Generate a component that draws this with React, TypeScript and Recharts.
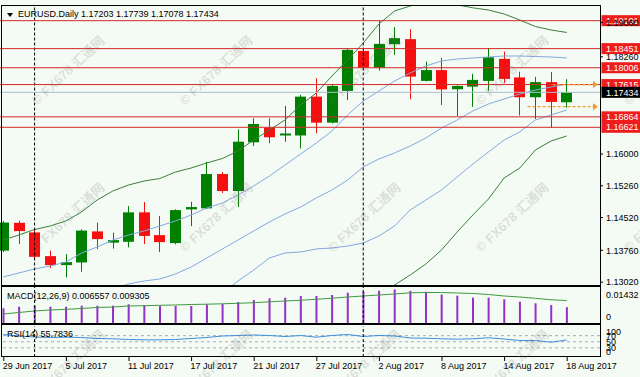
import React from "react";
import { ComposedChart, Bar, Line, XAxis, YAxis, ReferenceLine, ReferenceDot } from "recharts";

// ---------- data ----------
const dates = [
  "29 Jun 2017", "30 Jun 2017", "3 Jul 2017", "4 Jul 2017", "5 Jul 2017", "6 Jul 2017", "7 Jul 2017",
  "10 Jul 2017", "11 Jul 2017", "12 Jul 2017", "13 Jul 2017", "14 Jul 2017", "17 Jul 2017", "18 Jul 2017",
  "19 Jul 2017", "20 Jul 2017", "21 Jul 2017", "24 Jul 2017", "25 Jul 2017", "26 Jul 2017", "27 Jul 2017",
  "28 Jul 2017", "31 Jul 2017", "1 Aug 2017", "2 Aug 2017", "3 Aug 2017", "4 Aug 2017", "7 Aug 2017",
  "8 Aug 2017", "9 Aug 2017", "10 Aug 2017", "11 Aug 2017", "14 Aug 2017", "15 Aug 2017", "16 Aug 2017",
  "17 Aug 2017", "18 Aug 2017",
];
const opens = [1.13753, 1.144, 1.14177, 1.13625, 1.13416, 1.13478, 1.142, 1.13939, 1.13958, 1.14643, 1.14114, 1.13928, 1.14712, 1.14736, 1.15534, 1.15139, 1.16272, 1.16612, 1.16431, 1.16431, 1.17334, 1.16729, 1.17467, 1.18398, 1.18009, 1.18554, 1.18671, 1.177, 1.17951, 1.17506, 1.17567, 1.177, 1.18212, 1.17781, 1.1732, 1.17672, 1.17203];
const highs = [1.1444, 1.14447, 1.14242, 1.13753, 1.13672, 1.14247, 1.14405, 1.14172, 1.14789, 1.14882, 1.14556, 1.14712, 1.14889, 1.15821, 1.15581, 1.16575, 1.16831, 1.16831, 1.17118, 1.17374, 1.17763, 1.1763, 1.18456, 1.18445, 1.19104, 1.1895, 1.18903, 1.18149, 1.18235, 1.17595, 1.17863, 1.18461, 1.18382, 1.17916, 1.17793, 1.17909, 1.17739];
const lows = [1.13718, 1.13905, 1.13544, 1.13346, 1.13129, 1.1326, 1.13788, 1.138, 1.13828, 1.13905, 1.13718, 1.13898, 1.14324, 1.14719, 1.15092, 1.14766, 1.16186, 1.16249, 1.16286, 1.16128, 1.16482, 1.1671, 1.17257, 1.17956, 1.1794, 1.18305, 1.17274, 1.17688, 1.17141, 1.16885, 1.17094, 1.17467, 1.17653, 1.16896, 1.16815, 1.16617, 1.17078];
const closes = [1.14405, 1.14207, 1.13609, 1.13416, 1.13485, 1.14219, 1.14021, 1.13998, 1.14643, 1.14095, 1.13951, 1.14696, 1.14766, 1.15534, 1.15139, 1.16286, 1.16698, 1.16389, 1.16477, 1.17334, 1.16729, 1.17583, 1.18421, 1.18009, 1.18561, 1.18694, 1.178, 1.17951, 1.17502, 1.17583, 1.17723, 1.18251, 1.17746, 1.1732, 1.17672, 1.17211, 1.17434];

const bbUpper2 = [1.14, 1.14116, 1.14244, 1.14326, 1.14442, 1.14651, 1.1493, 1.1514, 1.15279, 1.15372, 1.1543, 1.15581, 1.15674, 1.15791, 1.15895, 1.1607, 1.16326, 1.16558, 1.16791, 1.1714, 1.17419, 1.17814, 1.18186, 1.18581, 1.19023, 1.19326, 1.19442, 1.19535, 1.19535, 1.1947, 1.194, 1.19349, 1.19256, 1.19116, 1.18965, 1.18884, 1.18826];
const bbUpper1 = [1.1314, 1.13233, 1.13326, 1.13395, 1.13488, 1.13698, 1.13837, 1.14, 1.14116, 1.14209, 1.14326, 1.14442, 1.14581, 1.14744, 1.1486, 1.15047, 1.15256, 1.15488, 1.15744, 1.16, 1.16256, 1.16535, 1.16907, 1.17233, 1.17465, 1.17698, 1.17884, 1.18047, 1.18163, 1.18209, 1.18233, 1.18256, 1.18279, 1.18279, 1.18267, 1.18256, 1.18233];
const bbMiddle = [1.12279, 1.12349, 1.12419, 1.12488, 1.12558, 1.12674, 1.12767, 1.1286, 1.12977, 1.13047, 1.13093, 1.13209, 1.13372, 1.13581, 1.13791, 1.14, 1.14209, 1.14419, 1.14605, 1.14767, 1.14977, 1.15163, 1.15395, 1.15698, 1.15884, 1.16023, 1.16186, 1.16372, 1.16605, 1.16791, 1.17, 1.17163, 1.17279, 1.17395, 1.17488, 1.17558, 1.17628];
const bbLower1 = [1.11419, 1.11465, 1.11512, 1.11558, 1.11605, 1.11651, 1.11698, 1.11744, 1.11814, 1.11907, 1.12, 1.1214, 1.12233, 1.12465, 1.12767, 1.13047, 1.13302, 1.13581, 1.13698, 1.13721, 1.13791, 1.13814, 1.1386, 1.1393, 1.14093, 1.14326, 1.14698, 1.1493, 1.15163, 1.15465, 1.15767, 1.16047, 1.16326, 1.16512, 1.16791, 1.16907, 1.17023];
const bbLower2 = [1.10558, 1.10628, 1.10674, 1.10721, 1.10744, 1.10791, 1.10837, 1.10884, 1.1093, 1.10977, 1.11023, 1.1107, 1.11116, 1.11302, 1.11488, 1.11791, 1.1207, 1.12372, 1.12488, 1.12419, 1.12512, 1.12488, 1.12535, 1.12674, 1.12767, 1.12953, 1.13186, 1.13442, 1.13767, 1.14186, 1.14581, 1.14953, 1.15442, 1.15674, 1.16093, 1.16302, 1.16419];

const macdHist = [0.00608, 0.00675, 0.00716, 0.00675, 0.00675, 0.00716, 0.00716, 0.00716, 0.00774, 0.00745, 0.00704, 0.00704, 0.00704, 0.00774, 0.00786, 0.00869, 0.00952, 0.01022, 0.01047, 0.01118, 0.01118, 0.01159, 0.01254, 0.01296, 0.01337, 0.01387, 0.01333, 0.01291, 0.0118, 0.0113, 0.01047, 0.01047, 0.00981, 0.00882, 0.00815, 0.00745, 0.006557];
const macdSignal = [0.00373, 0.00435, 0.00497, 0.00538, 0.00567, 0.006, 0.00642, 0.00662, 0.00704, 0.00716, 0.00733, 0.00745, 0.00766, 0.00778, 0.00795, 0.00815, 0.0084, 0.00877, 0.00911, 0.0094, 0.00981, 0.01026, 0.01076, 0.01118, 0.01159, 0.012, 0.0125, 0.01262, 0.01262, 0.01242, 0.01221, 0.0118, 0.01118, 0.01076, 0.01022, 0.0096, 0.009305];
const rsiValues = [73.8, 68.9, 65.6, 63.9, 64.9, 63.9, 60.7, 59.7, 57.4, 56.4, 56.4, 57.4, 60.7, 63.9, 68.9, 70.5, 72.1, 70.5, 67.2, 70.5, 64.9, 70.5, 73.8, 67.2, 70.5, 68.9, 62.3, 61.6, 59.7, 58.4, 59.7, 63.0, 59.0, 54.1, 54.1, 48.5, 55.7836];

const priceTicks = [1.1906, 1.1826, 1.16, 1.1526, 1.1452, 1.1376, 1.1302];
const levelLines = [1.19101, 1.18451, 1.18006, 1.17615, 1.16864, 1.16621];
const bidPrice = 1.17434;
const arrowLevels = [1.17615, 1.17101];
const arrowStartIdx = [35.1, 33.5];
const arrowEndIdx = 37.97;
const macdTicks = [0, 0.01432];
const rsiTicks = [0, 30, 50, 70, 100];
const rsiLevels = [30, 50, 70];
const dateTickIdx = [0, 4, 8, 12, 16, 20, 24, 28, 32, 36];
const separatorIdx = [2, 23];
const titleText = "EURUSD.Daily 1.17203 1.17739 1.17078 1.17434";
const macdText = "MACD(12,26,9) 0.006557 0.009305";
const rsiText = "RSI(14) 55.7836";
const watermarkText = "© FX678 汇通网";

// ---------- style ----------
const FONT = '"Liberation Sans", Arial, sans-serif';
const BG = "#f4faf4";
const GREEN = "#008000";
const RED = "#f50f0f";
const BAND_GREEN = "#3d7f3d";
const BAND_BLUE = "#84a8e0";
const LINE_RED = "#d62828";
const TAG_RED = "#ee1c1c";
const BID = "#a9bfcf";
const ORANGE = "#f59a2c";
const PURPLE = "#9530c8";
const SIG_GREEN = "#3f9a3f";
const RSI_BLUE = "#3d8fdc";
const LEVEL = "#a4afba";

const X0 = -0.211;
const X1 = 38.128;
const P_TOP = 1.194419;
const P_BOT = 1.129419;

const rows = dates.map((d, i) => ({
  i,
  date: d,
  o: opens[i],
  h: highs[i],
  l: lows[i],
  c: closes[i],
  hl: [lows[i], highs[i]],
  u2: bbUpper2[i],
  u1: bbUpper1[i],
  m: bbMiddle[i],
  l1: bbLower1[i],
  l2: bbLower2[i],
  macd: macdHist[i],
  sig: macdSignal[i],
  rsi: rsiValues[i],
}));
const allIdx = rows.map((r) => r.i);

// ---------- shapes ----------
const Candle = (props: any) => {
  const { x, y, width, height, payload } = props;
  if (x == null || y == null || !payload) return null;
  const top = Math.min(y, y + height);
  const bottom = Math.max(y, y + height);
  const span = payload.h - payload.l;
  const k = span > 0 ? (bottom - top) / span : 0;
  const py = (p: number) => top + (payload.h - p) * k;
  const up = payload.c >= payload.o;
  const color = up ? GREEN : RED;
  const cr = Math.round(x + width / 2);
  const bt = py(Math.max(payload.o, payload.c));
  const bb = py(Math.min(payload.o, payload.c));
  return (
    <g>
      <line x1={cr + 0.5} x2={cr + 0.5} y1={top} y2={bottom} stroke={color} strokeWidth={1} />
      <rect x={cr - 5} y={bt} width={11} height={Math.max(1.5, bb - bt)} fill={color} />
    </g>
  );
};

const PriceTick = (props: any) => {
  const { x, y, payload } = props;
  return (
    <text x={x} y={y + 3.2} fontSize={9} fontFamily={FONT} fill="#000" textAnchor="start">
      {Number(payload.value).toFixed(5)}
    </text>
  );
};

const ClampTick = (props: any) => {
  const { x, y, payload, lo, hi, digits } = props;
  const yy = Math.min(hi, Math.max(lo, y));
  const v = Number(payload.value);
  const txt = v === 0 ? "0" : digits ? v.toFixed(digits) : String(v);
  return (
    <text x={x} y={yy + 3.2} fontSize={9} fontFamily={FONT} fill="#000" textAnchor="start">
      {txt}
    </text>
  );
};

const DateTick = (props: any) => {
  const { x, payload } = props;
  const label = dates[payload.value];
  return (
    <g>
      <line x1={x + 0.5} x2={x + 0.5} y1={357} y2={361} stroke="#000" strokeWidth={1} />
      <text x={x - 0.5} y={368.5} fontSize={9} fontFamily={FONT} fill="#000" textAnchor="start">
        {label}
      </text>
    </g>
  );
};

const Tag = (props: any) => {
  const { viewBox, text, bg } = props;
  if (!viewBox) return null;
  const x = viewBox.x + viewBox.width + 1.5;
  const y = viewBox.y;
  return (
    <g>
      <rect x={x} y={y - 5.5} width={640 - x} height={11} fill={bg} />
      <text x={x + 4.5} y={y + 3.2} fontSize={9} fontFamily={FONT} fill="#fff" textAnchor="start">
        {text}
      </text>
    </g>
  );
};

const ArrowHead = (props: any) => {
  const { cx, cy } = props;
  if (cx == null || cy == null) return null;
  return <path d={`M${cx - 4.5},${cy - 3.5} L${cx + 0.5},${cy} L${cx - 4.5},${cy + 3.5} Z`} fill={ORANGE} />;
};

const lineProps = {
  type: "linear" as const,
  dot: false,
  activeDot: false,
  isAnimationActive: false,
  strokeWidth: 1,
};

const layer: React.CSSProperties = { position: "absolute", left: 0, top: 0 };

const wmPositions = [
  [40, 103], [188, 103], [336, 103], [484, 103], [632, 103],
  [40, 250], [188, 250], [336, 250], [484, 250], [632, 250],
  [40, 397], [188, 397], [336, 397], [484, 397],
];

export default function App() {
  return (
    <div
      style={{
        position: "absolute",
        left: 0,
        top: 0,
        width: 640,
        height: 377,
        background: BG,
        overflow: "hidden",
        fontFamily: FONT,
      }}
    >
      {/* main price panel */}
      <div style={layer}>
        <ComposedChart width={640} height={377} data={rows} margin={{ top: 6, right: 0, bottom: 91.5, left: 0 }}>
          <XAxis dataKey="i" type="number" domain={[X0, X1]} ticks={allIdx} hide />
          <YAxis
            orientation="right"
            type="number"
            domain={[P_BOT, P_TOP]}
            allowDataOverflow
            ticks={priceTicks}
            interval={0}
            width={40}
            tickSize={3}
            tickMargin={3}
            axisLine={false}
            tickLine={{ stroke: "#000" }}
            tick={<PriceTick />}
          />
          <Bar dataKey="hl" shape={<Candle />} barSize={11} isAnimationActive={false} />
          <Line dataKey="u2" stroke={BAND_GREEN} {...lineProps} />
          <Line dataKey="l2" stroke={BAND_GREEN} {...lineProps} />
          <Line dataKey="u1" stroke={BAND_BLUE} {...lineProps} />
          <Line dataKey="m" stroke={BAND_BLUE} {...lineProps} />
          <Line dataKey="l1" stroke={BAND_BLUE} {...lineProps} />
          {separatorIdx.map((s) => (
            <ReferenceLine key={"s" + s} x={s} stroke="#000" strokeDasharray="3 2" />
          ))}
          {levelLines.map((v) => (
            <ReferenceLine key={"lv" + v} y={v} stroke={LINE_RED} strokeWidth={1} label={<Tag text={v.toFixed(5)} bg={TAG_RED} />} />
          ))}
          <ReferenceLine y={bidPrice} stroke={BID} strokeWidth={1} label={<Tag text={bidPrice.toFixed(5)} bg="#000" />} />
          {arrowLevels.map((v, k) => (
            <ReferenceLine
              key={"ar" + v}
              segment={[
                { x: arrowStartIdx[k], y: v },
                { x: arrowEndIdx - 0.25, y: v },
              ]}
              stroke={ORANGE}
              strokeWidth={1.2}
              strokeDasharray="3 2"
            />
          ))}
          {arrowLevels.map((v) => (
            <ReferenceDot key={"ad" + v} x={arrowEndIdx} y={v} r={3} shape={<ArrowHead />} />
          ))}
        </ComposedChart>
      </div>

      {/* MACD panel */}
      <div style={layer}>
        <ComposedChart width={640} height={377} data={rows} margin={{ top: 287, right: 0, bottom: 54, left: 0 }}>
          <XAxis dataKey="i" type="number" domain={[X0, X1]} ticks={allIdx} hide />
          <YAxis
            orientation="right"
            type="number"
            domain={[0, 0.0149]}
            allowDataOverflow
            ticks={macdTicks}
            interval={0}
            width={40}
            tickSize={3}
            tickMargin={3}
            axisLine={false}
            tickLine={false}
            tick={<ClampTick lo={294.3} hi={316.7} digits={5} />}
          />
          <Bar dataKey="macd" fill={PURPLE} barSize={2} isAnimationActive={false} />
          <Line dataKey="sig" stroke={SIG_GREEN} {...lineProps} />
          {separatorIdx.map((s) => (
            <ReferenceLine key={"ms" + s} x={s} stroke="#000" strokeDasharray="3 2" />
          ))}
        </ComposedChart>
      </div>

      {/* RSI panel */}
      <div style={layer}>
        <ComposedChart width={640} height={377} data={rows} margin={{ top: 326.5, right: 0, bottom: 0, left: 0 }}>
          <XAxis
            dataKey="i"
            type="number"
            domain={[X0, X1]}
            ticks={dateTickIdx}
            interval={0}
            height={20}
            axisLine={false}
            tickLine={false}
            tick={<DateTick />}
          />
          <YAxis
            orientation="right"
            type="number"
            domain={[0, 100]}
            ticks={rsiTicks}
            interval={0}
            width={40}
            tickSize={3}
            tickMargin={3}
            axisLine={false}
            tickLine={false}
            tick={<ClampTick lo={332} hi={351.7} />}
          />
          {rsiLevels.map((v) => (
            <ReferenceLine key={"rl" + v} y={v} stroke={LEVEL} strokeDasharray="3 3" />
          ))}
          <Line dataKey="rsi" stroke={RSI_BLUE} {...lineProps} />
          {separatorIdx.map((s) => (
            <ReferenceLine key={"rs" + s} x={s} stroke="#000" strokeDasharray="3 2" />
          ))}
        </ComposedChart>
      </div>

      {/* panel borders */}
      <div style={{ position: "absolute", left: 1, top: 5, width: 600, height: 281, border: "1px solid #000", boxSizing: "border-box" }} />
      <div style={{ position: "absolute", left: 1, top: 286, width: 600, height: 38, border: "1px solid #000", boxSizing: "border-box" }} />
      <div style={{ position: "absolute", left: 1, top: 324, width: 600, height: 33, border: "1px solid #000", boxSizing: "border-box" }} />

      {/* titles */}
      <div
        style={{
          position: "absolute",
          left: 7,
          top: 12.5,
          width: 0,
          height: 0,
          borderLeft: "3px solid transparent",
          borderRight: "3px solid transparent",
          borderTop: "4px solid #000",
        }}
      />
      <div style={{ position: "absolute", left: 18, top: 10, fontSize: 9, lineHeight: "9px", color: "#000", whiteSpace: "nowrap" }}>
        {titleText}
      </div>
      <div style={{ position: "absolute", left: 7, top: 292.3, fontSize: 9, lineHeight: "9px", color: "#000", whiteSpace: "nowrap" }}>
        {macdText}
      </div>
      <div style={{ position: "absolute", left: 7, top: 330, fontSize: 9, lineHeight: "9px", color: "#000", whiteSpace: "nowrap" }}>
        {rsiText}
      </div>

      {/* watermarks */}
      {wmPositions.map(([x, y], k) => (
        <div
          key={"wm" + k}
          style={{
            position: "absolute",
            left: x - 6,
            top: y - 8,
            transformOrigin: "0 50%",
            transform: "rotate(-43deg)",
            fontSize: 13,
            lineHeight: "16px",
            fontWeight: "bold",
            color: "rgba(110,110,110,0.2)",
            whiteSpace: "nowrap",
            fontFamily: '"Liberation Sans", "Noto Sans CJK SC", sans-serif',
            pointerEvents: "none",
          }}
        >
          {watermarkText}
        </div>
      ))}
    </div>
  );
}
